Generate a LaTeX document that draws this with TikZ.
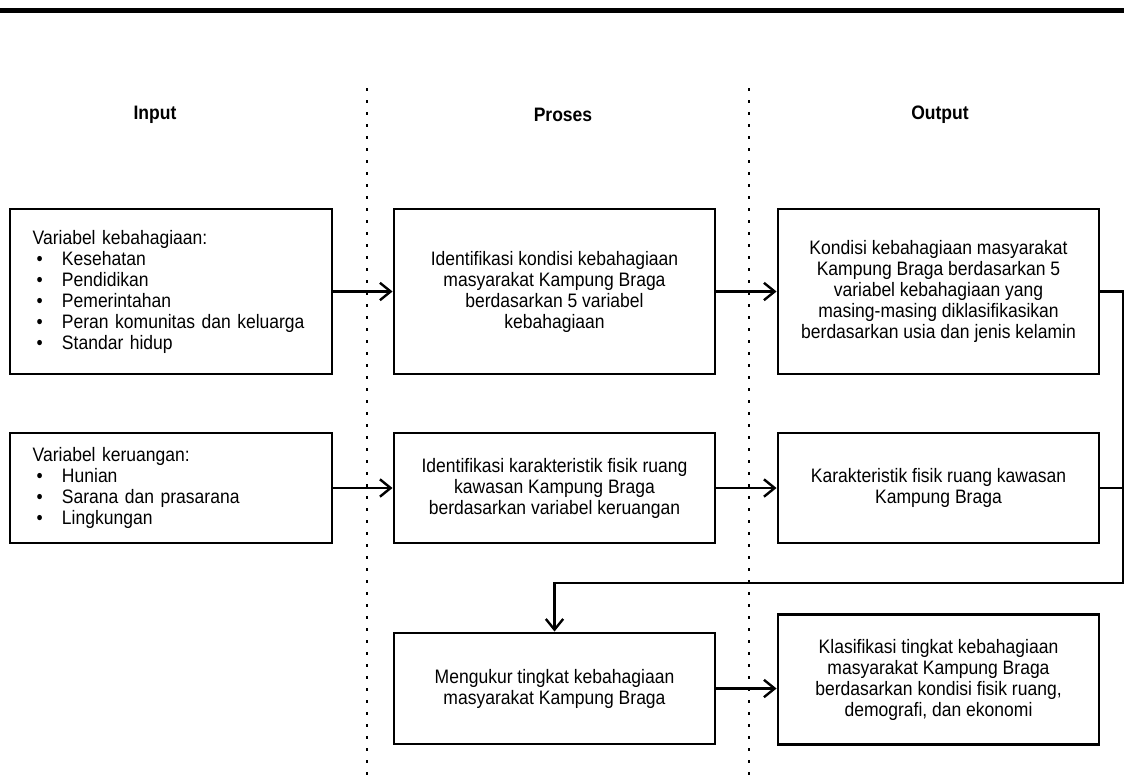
\documentclass[tikz,border=0pt]{standalone}
\usepackage{fontspec}
\setmainfont{Liberation Sans}[FakeStretch=0.9]
\usetikzlibrary{arrows.meta}
\newcommand{\butir}{\makebox[22pt][l]{\hspace{3pt}\textbullet}}

\begin{document}
\begin{tikzpicture}[x=0.75pt,y=-0.75pt,
	kotak/.style={draw=black,line width=2.2pt,rectangle,inner sep=0pt,
		font=\fontsize{14.6}{15.75}\selectfont,align=center,
		minimum width=240.75pt},
	masukan/.style={kotak,align=left,inner xsep=17pt,text width=207.5pt},
	judul/.style={font=\fontsize{14.6}{15.75}\selectfont\bfseries},
	panah/.style={line width=1.8pt,-{Straight Barb[length=8pt,width=13pt]}},
	garis/.style={line width=1.8pt},
	pemisah/.style={line width=2.2pt,dash pattern=on 2.2pt off 6.8pt}]
	\useasboundingbox (0,0) rectangle (1124,776);
	\fill[black] (0,8) rectangle (1124,13);
	%\draw[help lines] (0,0) grid (1124,776);
	\draw[pemisah] (367,88) -- (367,776);
	\draw[pemisah] (749,88) -- (749,776);
	\node[judul] (hIn) at (155,115) {Input};
	\node[judul] (hPr) at (563,115) {Proses};
	\node[judul] (hOut) at (940,115) {Output};
	% baris 1
	\node[masukan,minimum height=123.75pt] (in1) at (171,291.5)
		{Variabel kebahagiaan:\\
		\butir Kesehatan\\
		\butir Pendidikan\\
		\butir Pemerintahan\\
		\butir Peran komunitas dan keluarga\\
		\butir Standar hidup};
	\node[kotak,minimum height=123.75pt] (pr1) at (554.5,291.5)
		{Identifikasi kondisi kebahagiaan\\masyarakat Kampung Braga\\berdasarkan 5 variabel\\kebahagiaan};
	\node[kotak,minimum height=123.75pt] (out1) at (938.5,291.5)
		{Kondisi kebahagiaan masyarakat\\Kampung Braga berdasarkan 5\\variabel kebahagiaan yang\\masing-masing diklasifikasikan\\berdasarkan usia dan jenis kelamin};
	% baris 2
	\node[masukan,minimum height=82.5pt] (in2) at (171,488)
		{Variabel keruangan:\\
		\butir Hunian\\
		\butir Sarana dan prasarana\\
		\butir Lingkungan};
	\node[kotak,minimum height=82.5pt] (pr2) at (554.5,488)
		{Identifikasi karakteristik fisik ruang\\kawasan Kampung Braga\\berdasarkan variabel keruangan};
	\node[kotak,minimum height=82.5pt] (out2) at (938.5,488)
		{Karakteristik fisik ruang kawasan\\Kampung Braga};
	% baris 3
	\node[kotak,minimum height=83.25pt] (pr3) at (554.5,688.5)
		{Mengukur tingkat kebahagiaan\\masyarakat Kampung Braga};
	\node[kotak,minimum height=97.5pt] (out3) at (938.5,679.5)
		{Klasifikasi tingkat kebahagiaan\\masyarakat Kampung Braga\\berdasarkan kondisi fisik ruang,\\demografi, dan ekonomi};
	\coordinate (belok) at (1123,583);
	\draw[panah] (in1) -- (pr1);
	\draw[panah] (pr1) -- (out1);
	\draw[panah] (in2) -- (pr2);
	\draw[panah] (pr2) -- (out2);
	\draw[panah] (pr3.east) -- (pr3.east -| out3.west);
	\draw[garis] (out2.east) -- (out2.east -| belok);
	\draw[panah] (out1.east) -| (belok) -| (pr3.north);
\end{tikzpicture}
\end{document}
